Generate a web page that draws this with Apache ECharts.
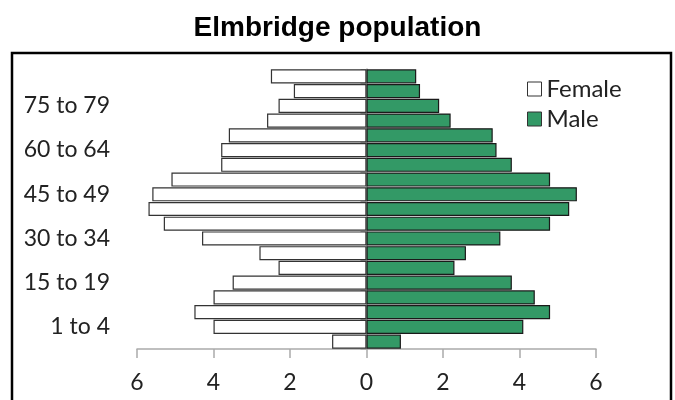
<!DOCTYPE html>
<html>
<head>
<meta charset="utf-8">
<script src="https://cdn.jsdelivr.net/npm/echarts@6/dist/echarts.min.js"></script>
<style>html,body{margin:0;padding:0;background:#fff}#c{width:675px;height:400px}</style>
</head>
<body>
<div id="c"></div>
<script>
// Age groups, bottom to top
var ageGroups = ['Under 1','1 to 4','5 to 9','10 to 14','15 to 19','20 to 24','25 to 29','30 to 34','35 to 39','40 to 44','45 to 49','50 to 54','55 to 59','60 to 64','65 to 69','70 to 74','75 to 79','80 to 84','85+'];
// Percent of population, bottom to top
var femaleValues = [0.9, 4.0, 4.5, 4.0, 3.5, 2.3, 2.8, 4.3, 5.3, 5.7, 5.6, 5.1, 3.8, 3.8, 3.6, 2.6, 2.3, 1.9, 2.5];
var maleValues   = [0.9, 4.1, 4.8, 4.4, 3.8, 2.3, 2.6, 3.5, 4.8, 5.3, 5.5, 4.8, 3.8, 3.4, 3.3, 2.2, 1.9, 1.4, 1.3];
var xTicks = [-6, -4, -2, 0, 2, 4, 6];

var chart = echarts.init(document.getElementById('c'), null, {renderer: 'canvas'});
var labelFont = 'Lato, "Open Sans", sans-serif';
chart.setOption({
  animation: false,
  title: {
    text: 'Elmbridge population', left: 'center', top: 9,
    textStyle: {fontFamily: 'Liberation Sans, Arial, sans-serif', fontWeight: 'bold', fontSize: 28, color: '#000'}
  },
  graphic: [{
    type: 'rect', shape: {x: 12, y: 53, width: 659, height: 352},
    style: {fill: 'none', stroke: '#000', lineWidth: 2.5}, z: 0, silent: true
  }],
  legend: {
    orient: 'vertical', left: 522, top: 72, itemWidth: 14, itemHeight: 14, itemGap: 6,
    textStyle: {fontFamily: labelFont, fontSize: 24, color: '#222', padding: [0,0,0,0]},
    data: [
      {name: 'Female', icon: 'rect', itemStyle: {color: '#fff', borderColor: '#333', borderWidth: 1}},
      {name: 'Male', icon: 'rect', itemStyle: {color: '#339966', borderColor: '#333', borderWidth: 1}}
    ]
  },
  grid: {left: 137, right: 79, top: 69, bottom: 51, containLabel: false},
  xAxis: {
    type: 'value', min: -6, max: 6, interval: 2,
    axisLine: {show: true, lineStyle: {color: '#aaa', width: 1.5}},
    axisTick: {show: true, length: 9, lineStyle: {color: '#aaa', width: 1.5}},
    axisLabel: {fontFamily: labelFont, fontSize: 23, color: '#222', margin: 22,
      formatter: function (v) { return xTicks.indexOf(v) >= 0 ? String(Math.abs(v)) : ''; }},
    splitLine: {show: false}
  },
  yAxis: [{
    type: 'category', data: ageGroups, position: 'left',
    axisLine: {show: false, onZero: false}, axisTick: {show: false},
    axisLabel: {interval: function (i) { return i % 3 === 1; }, fontFamily: labelFont, fontSize: 23, color: '#222', margin: 27, align: 'right'}
  }, {
    type: 'category', data: ageGroups, position: 'right',
    axisLine: {show: true, onZero: true, lineStyle: {color: '#aaa', width: 1.5}},
    axisTick: {show: true, inside: true, length: 6, lineStyle: {color: '#aaa'}},
    axisLabel: {show: false}
  }],
  series: [{
    name: 'Female', type: 'bar', yAxisIndex: 0,
    data: femaleValues.map(function (v) { return -v; }),
    barCategoryGap: '4%', barGap: '-100%',
    itemStyle: {color: '#fff', borderColor: '#333', borderWidth: 1.2}
  }, {
    name: 'Male', type: 'bar', yAxisIndex: 0,
    data: maleValues,
    barCategoryGap: '4%', barGap: '-100%',
    itemStyle: {color: '#339966', borderColor: '#1a1a1a', borderWidth: 1.2}
  }]
});
</script>
</body>
</html>
